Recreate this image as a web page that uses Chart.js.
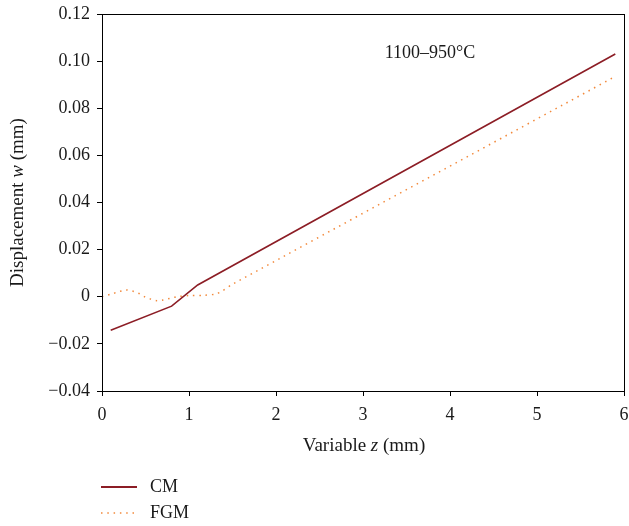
<!DOCTYPE html>
<html>
<head>
<meta charset="utf-8">
<script src="https://cdn.jsdelivr.net/npm/chart.js@4"></script>
<style>
  html, body { margin: 0; padding: 0; background: #fff; }
  #wrap { width: 629px; height: 526px; position: relative; }
</style>
</head>
<body>
<div id="wrap"><canvas id="chart"></canvas></div>
<script>
/* Valores (z en mm, w en mm). */
const CM_Z  = [0.1, 0.8, 1.1, 5.9];
const CM_W  = [-0.0142, -0.004, 0.005, 0.103];

const FGM_Z = [0, 0.1, 0.2, 0.27, 0.35, 0.42, 0.49, 0.56, 0.63, 0.7, 0.78, 0.86, 1.0, 1.17, 1.31, 1.38, 1.5, 5.9];
const FGM_W = [0, 0.0011, 0.0022, 0.0029, 0.0024, 0.0015, 0.0, -0.001, -0.0017, -0.0014, -0.0007, 0.0, 0.0005, 0.0006, 0.0012, 0.0024, 0.0053, 0.0935];

const X_TICKS = [0, 1, 2, 3, 4, 5, 6];
const Y_TICKS = [-0.04, -0.02, 0, 0.02, 0.04, 0.06, 0.08, 0.10, 0.12];

const SERIES_LABELS = ['CM', 'FGM'];
const ANNOTATION = '1100–950°C';

const CM_COLOR  = '#8c1d25';
const FGM_COLOR = '#f2893b';
const SERIF = '"Liberation Serif", "DejaVu Serif", serif';

const toPts = (xs, ys) => xs.map((x, i) => ({ x, y: ys[i] }));

/* Texto con partes en cursiva: [[texto, cursiva], ...] centrado en el origen */
function drawMixed(ctx, parts, size) {
  const fontOf = it => `${it ? 'italic ' : ''}${size}px ${SERIF}`;
  let total = 0;
  parts.forEach(([t, it]) => { ctx.font = fontOf(it); total += ctx.measureText(t).width; });
  let x = -total / 2;
  parts.forEach(([t, it]) => {
    ctx.font = fontOf(it);
    ctx.fillText(t, x, 0);
    x += ctx.measureText(t).width;
  });
}

const extras = {
  id: 'extras',
  afterDraw(chart) {
    const { ctx, chartArea: a } = chart;
    ctx.save();
    // marco completo
    ctx.strokeStyle = '#000';
    ctx.lineWidth = 1;
    ctx.strokeRect(Math.round(a.left) + 0.5, Math.round(a.top) + 0.5,
                   Math.round(a.right - a.left), Math.round(a.bottom - a.top));

    ctx.fillStyle = '#1a1a1a';
    ctx.textAlign = 'left';
    ctx.textBaseline = 'middle';

    // título eje x
    ctx.save();
    ctx.translate(364, a.bottom + 55);
    drawMixed(ctx, [['Variable ', false], ['z', true], [' (mm)', false]], 19);
    ctx.restore();

    // título eje y
    ctx.save();
    ctx.translate(18, (a.top + a.bottom) / 2);
    ctx.rotate(-Math.PI / 2);
    drawMixed(ctx, [['Displacement ', false], ['w', true], [' (mm)', false]], 19);
    ctx.restore();

    // anotación
    ctx.save();
    ctx.translate(430, 53);
    drawMixed(ctx, [[ANNOTATION, false]], 18);
    ctx.restore();

    // leyenda debajo del gráfico
    chart.data.datasets.forEach((ds, i) => {
      const y = 487 + i * 26;
      ctx.beginPath();
      ctx.strokeStyle = ds.borderColor;
      ctx.lineWidth = i === 0 ? 2 : 1.5;
      ctx.setLineDash(ds.borderDash || []);
      ctx.moveTo(101, y);
      ctx.lineTo(137, y);
      ctx.stroke();
      ctx.setLineDash([]);
      ctx.font = `18px ${SERIF}`;
      ctx.fillStyle = '#1a1a1a';
      ctx.fillText(ds.label, 150, y);
    });
    ctx.restore();
  },
};

const tickFmt = v => {
  if (Math.abs(v) < 1e-9) return '0';
  return v.toFixed(2).replace('-', '\u2212');
};

new Chart(document.getElementById('chart'), {
  type: 'scatter',
  data: {
    datasets: [
      {
        label: SERIES_LABELS[0],
        data: toPts(CM_Z, CM_W),
        showLine: true,
        borderColor: CM_COLOR,
        borderWidth: 1.6,
        pointRadius: 0,
        tension: 0,
      },
      {
        label: SERIES_LABELS[1],
        data: toPts(FGM_Z, FGM_W),
        showLine: true,
        borderColor: FGM_COLOR,
        borderWidth: 1.5,
        borderDash: [1.5, 4.8],
        pointRadius: 0,
        tension: 0.3,
      },
    ],
  },
  options: {
    responsive: true, maintainAspectRatio: false,
    animation: false,
    layout: { padding: { left: 0, right: 5, top: 14, bottom: 75 } },
    plugins: { legend: { display: false }, tooltip: { enabled: false } },
    scales: {
      x: {
        type: 'linear', min: 0, max: 6,
        afterBuildTicks: s => { s.ticks = X_TICKS.map(value => ({ value })); },
        afterFit: s => { s.height = 60; s.paddingLeft = 0; s.paddingRight = 0; },
        grid: { drawOnChartArea: false, drawTicks: true, tickLength: 5, color: '#000' },
        border: { display: true, color: '#000' },
        ticks: {
          color: '#1a1a1a', padding: 8, maxRotation: 0, autoSkip: false,
          font: { family: SERIF, size: 18 },
          callback: v => String(v),
        },
      },
      y: {
        min: -0.04, max: 0.12,
        afterBuildTicks: s => { s.ticks = Y_TICKS.map(value => ({ value })); },
        afterFit: s => { s.width = 102; s.paddingTop = 0; s.paddingBottom = 0; },
        grid: { drawOnChartArea: false, drawTicks: true, tickLength: 5, color: '#000' },
        border: { display: true, color: '#000' },
        ticks: {
          color: '#1a1a1a', padding: 7, autoSkip: false,
          font: { family: SERIF, size: 18 },
          callback: tickFmt,
        },
      },
    },
  },
  plugins: [extras],
});
</script>
</body>
</html>
